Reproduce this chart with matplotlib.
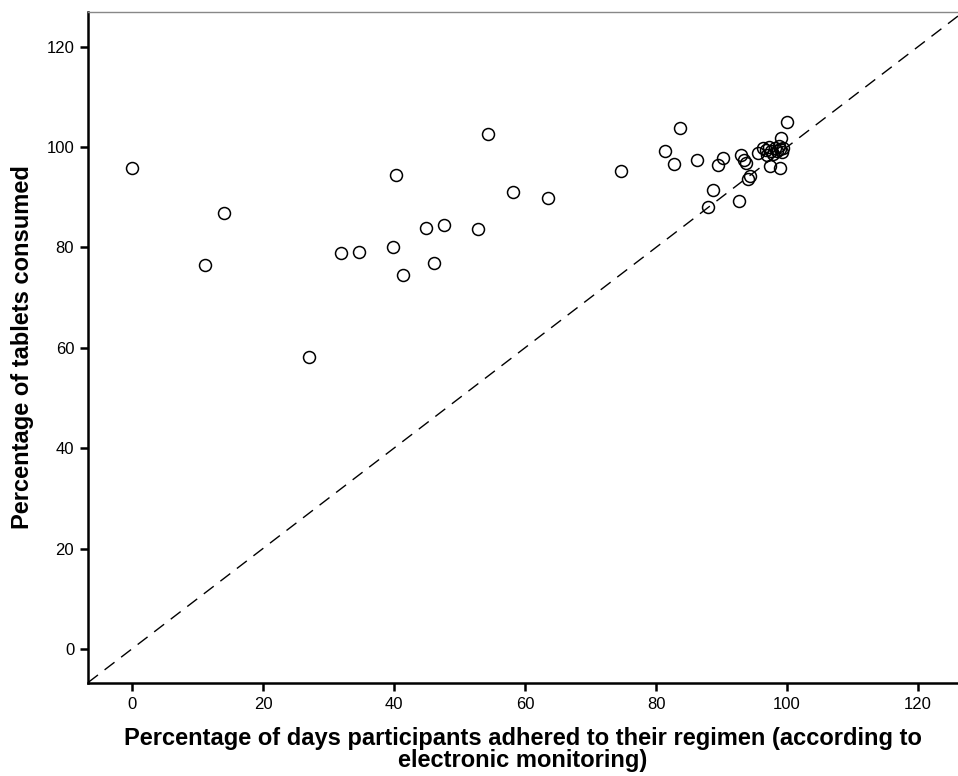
import matplotlib
matplotlib.use('Agg')
import matplotlib.pyplot as plt

plt.rcParams['font.family'] = ['Liberation Sans', 'DejaVu Sans']

# % of days adhered (electronic monitoring) vs % of tablets consumed
days_adhered = [0.0, 11.1, 14.0, 27.1, 31.9, 34.7, 39.8, 40.3, 41.4, 44.9,
                46.1, 47.7, 52.9, 54.3, 58.2, 63.5, 74.7, 81.3, 82.8, 83.6,
                86.2, 88.0, 88.7, 89.5, 90.2, 92.7, 92.9, 93.4, 93.8, 94.0,
                94.3, 95.5, 96.4, 96.8, 97.0, 97.3, 97.4, 97.6, 97.9, 98.2,
                98.5, 98.7, 99.0, 99.0, 99.1, 99.2, 99.4, 100.0]
tablets_consumed = [95.8, 76.5, 86.8, 58.1, 78.9, 79.0, 80.1, 94.4, 74.5, 83.9,
                    76.8, 84.5, 83.6, 102.5, 91.0, 89.8, 95.3, 99.2, 96.7, 103.8,
                    97.5, 88.0, 91.4, 96.5, 97.9, 89.3, 98.4, 97.4, 96.9, 93.7,
                    94.2, 98.9, 99.9, 99.5, 98.4, 100.0, 96.3, 99.2, 98.6, 99.8,
                    99.3, 100.2, 99.6, 95.8, 101.8, 99.0, 99.8, 104.9]

xticks = [0, 20, 40, 60, 80, 100, 120]
yticks = [0, 20, 40, 60, 80, 100, 120]

fig = plt.figure(figsize=(9.58, 7.76), dpi=100)
ax = fig.add_axes([0.0919, 0.1198, 0.9081, 0.8647])

lo, hi = -6.7, 126.5
ax.plot([lo, hi], [lo, hi], color='black', linewidth=1.0,
        linestyle=(0, (9, 6)), zorder=1)
ax.plot(days_adhered, tablets_consumed, linestyle='none', marker='o',
        markersize=8.6, markerfacecolor='none', markeredgecolor='black',
        markeredgewidth=1.1, zorder=2)

ax.set_xlim(lo, 126.1)
ax.set_ylim(-6.8, 126.9)
ax.set_xticks(xticks)
ax.set_yticks(yticks)
ax.tick_params(direction='out', length=6, width=1.8, labelsize=12, pad=4)

ax.spines['left'].set_linewidth(1.8)
ax.spines['bottom'].set_linewidth(1.8)
ax.spines['top'].set_linewidth(1.0)
ax.spines['top'].set_color('#888888')
ax.spines['right'].set_visible(False)

ax.set_xlabel('Percentage of days participants adhered to their regimen (according to\n'
              'electronic monitoring)', fontsize=17, fontweight='bold', labelpad=11,
              linespacing=0.93)
ax.set_ylabel('Percentage of tablets consumed', fontsize=17, fontweight='bold',
              labelpad=9)

fig.savefig('out.png', dpi=100)
